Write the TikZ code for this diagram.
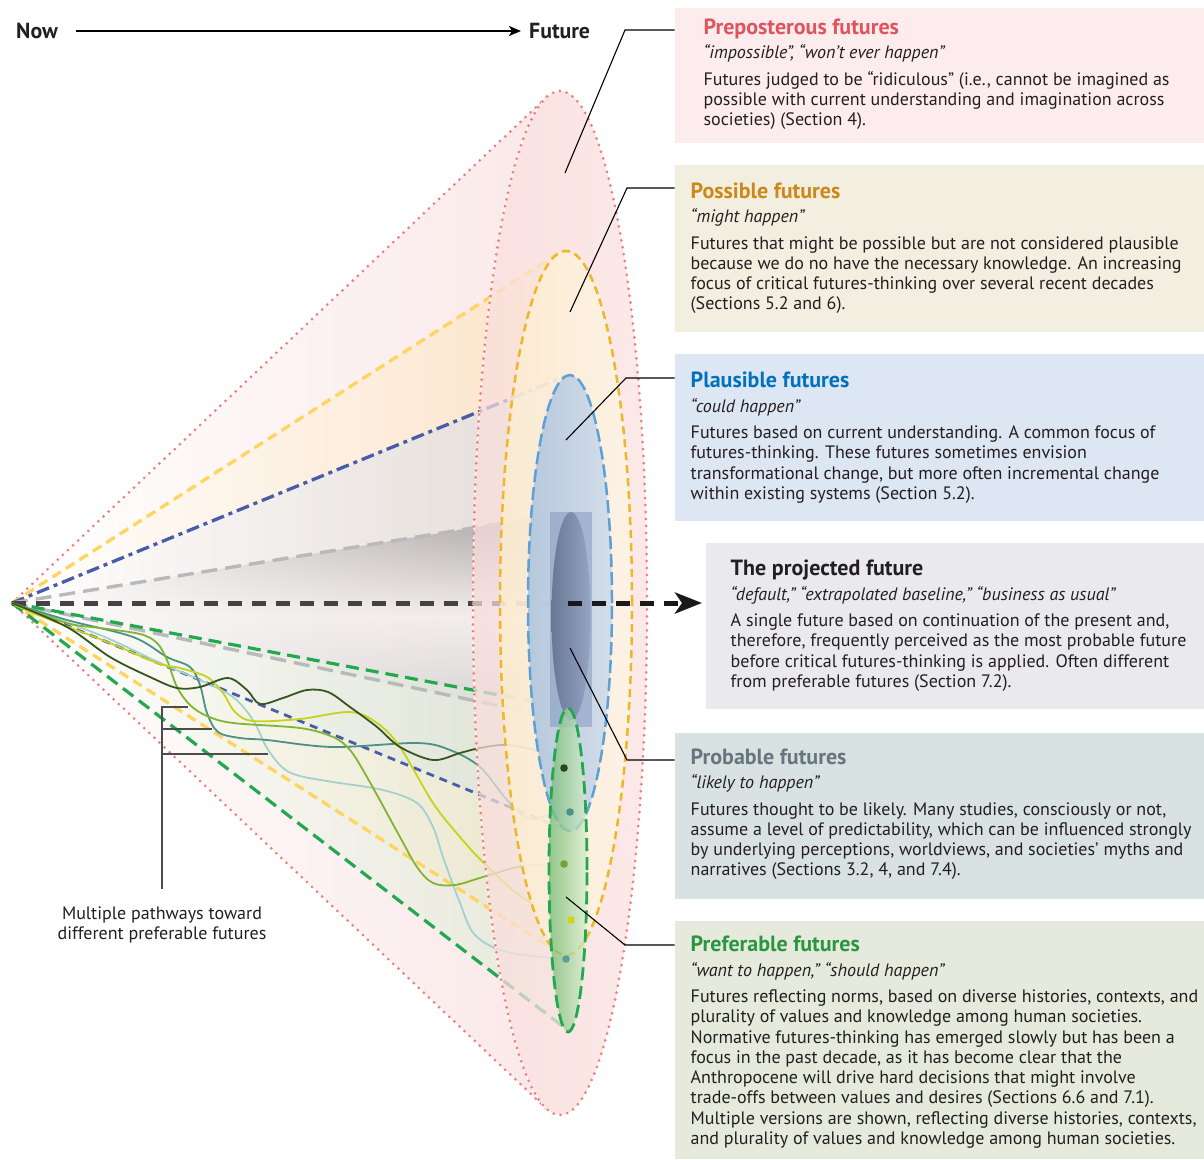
\documentclass[tikz,border=0pt]{standalone}
\usepackage{fontspec}
\setmainfont{PT Sans}
\usetikzlibrary{arrows.meta,fadings}
\definecolor{ink}{RGB}{35,31,32}
\definecolor{redline}{RGB}{240,125,125}
\definecolor{redhull}{RGB}{250,228,228}
\definecolor{redfaceL}{RGB}{249,221,219}
\definecolor{redfaceR}{RGB}{252,236,234}
\definecolor{yelline}{RGB}{255,212,95}
\definecolor{yelout}{RGB}{238,183,40}
\definecolor{yelhull}{RGB}{253,222,172}
\definecolor{yelfaceL}{RGB}{253,238,205}
\definecolor{yelfaceR}{RGB}{253,246,232}
\definecolor{bluetop}{RGB}{72,92,168}
\definecolor{blueout}{RGB}{95,160,212}
\definecolor{bluehull}{RGB}{205,210,225}
\definecolor{bluefaceL}{RGB}{165,192,222}
\definecolor{bluefaceR}{RGB}{202,217,236}
\definecolor{grayline}{RGB}{185,185,185}
\definecolor{grayA}{RGB}{150,146,148}
\definecolor{grayB}{RGB}{248,244,245}
\definecolor{grayC}{RGB}{205,203,204}
\definecolor{projrect}{RGB}{125,148,188}
\definecolor{projL}{RGB}{92,106,135}
\definecolor{projR}{RGB}{145,160,192}
\definecolor{projline}{RGB}{68,66,66}
\definecolor{greenline}{RGB}{35,168,80}
\definecolor{greenhull}{RGB}{215,232,205}
\definecolor{greenfaceL}{RGB}{115,186,115}
\definecolor{greenfaceR}{RGB}{215,238,205}
\definecolor{pDark}{RGB}{55,85,30}
\definecolor{pTeal}{RGB}{75,145,135}
\definecolor{pYel}{RGB}{200,210,25}
\definecolor{pGreen}{RGB}{130,180,50}
\definecolor{pLight}{RGB}{165,208,208}
\definecolor{boxPreC}{RGB}{252,236,237}
\definecolor{boxPosC}{RGB}{243,239,224}
\definecolor{boxPlaC}{RGB}{221,230,243}
\definecolor{boxProjC}{RGB}{234,234,236}
\definecolor{boxProbC}{RGB}{216,226,226}
\definecolor{boxPrefC}{RGB}{229,234,221}
\definecolor{tPreC}{RGB}{222,85,95}
\definecolor{tPosC}{RGB}{204,136,24}
\definecolor{tPlaC}{RGB}{0,114,188}
\definecolor{tProbC}{RGB}{103,117,126}
\definecolor{tPrefC}{RGB}{43,150,64}
\newcommand\titlef{\fontsize{22}{24}\selectfont\bfseries}
\newcommand\bodyf{\fontsize{18}{20.25}\selectfont}
\tikzfading[name=fadeleft, left color=transparent!100, right color=transparent!0]
\begin{document}
\begin{tikzpicture}[x=1pt,y=-1pt,
  reddot/.style={draw=redline, line width=3pt, line cap=round, dash pattern=on 0pt off 7pt},
  yelldash/.style={draw=yelline, line width=3.3pt, dash pattern=on 10pt off 6pt},
  yelloutl/.style={draw=yelout, line width=2.5pt, dash pattern=on 8pt off 5pt},
  bluedashdot/.style={draw=bluetop, line width=3.3pt, dash pattern=on 13pt off 5pt on 4pt off 5pt},
  bluedash/.style={draw=bluetop, line width=2.8pt, dash pattern=on 8pt off 6pt},
  blueoutl/.style={draw=blueout, line width=2.5pt, dash pattern=on 13pt off 5pt},
  graydash/.style={draw=grayline, line width=3.4pt, dash pattern=on 16pt off 8pt},
  greendash/.style={draw=greenline, line width=3.2pt, dash pattern=on 13pt off 7pt},
  greenoutl/.style={draw=greenline, line width=2.8pt, dash pattern=on 13pt off 6pt},
  projdash/.style={draw=projline, line width=5pt, dash pattern=on 13.5pt off 10.5pt},
  pathw/.style={line width=1.8pt},
  leader/.style={draw=black, line width=1.1pt},
  bracket/.style={draw=black!70, line width=1.5pt},
  infobox/.style={draw=none, inner sep=0pt, anchor=north west},
  infotext/.style={anchor=base west, inner sep=0pt, text=ink, font=\bodyf},
  bigword/.style={inner sep=0pt, text=ink, font=\fontsize{21.8}{24}\selectfont\bfseries}]
\useasboundingbox (0,0) rectangle (1204,1159);
\fill[white] (0,0) rectangle (1204,1159);

% ---------- hulls ----------
\shade[left color=white, right color=redhull]
  (12,603) -- (546.2,1108.5) -- (546.2,97.5) -- cycle (560,603) ellipse [x radius=87pt, y radius=512pt];
\shade[left color=white, right color=yelhull, fill opacity=0.6]
  (12,603) -- (558.1,952.5) -- (558.1,253.5) -- cycle (566,603) ellipse [x radius=66pt, y radius=352pt];
\shade[left color=white, right color=bluehull, fill opacity=0.55]
  (12,603) -- (566.8,830.4) -- (566.8,375.6) -- cycle (570,603) ellipse [x radius=42pt, y radius=228pt];
\shade[top color=grayA, bottom color=grayC, middle color=grayB, path fading=fadeleft, fit fading=true, fill opacity=0.85]
  (12,603) -- (566,720) -- (570,512) -- cycle;
\shade[left color=white, right color=greenhull, fill opacity=0.5]
  (12,603) -- (570,1032) -- (568,708) -- cycle (568,870) ellipse [x radius=19pt, y radius=162pt];

% ---------- hull edges ----------
\coordinate (apex) at (12,603);
\draw[reddot] (apex) -- (546.2,97.5);
\draw[reddot] (apex) -- (546.2,1108.5);
\draw[yelldash] (apex) -- (558.1,253.5);
\draw[yelldash] (apex) -- (558.1,952.5);
\draw[bluedashdot] (apex) -- (566.8,375.6);
\draw[bluedash] (apex) -- (566.8,830.4);
\draw[graydash] (apex) -- (570,512);
\draw[graydash] (apex) -- (566,720);
\draw[greendash] (apex) -- (568,708);
\draw[greendash] (apex) -- (570,1032);
\draw[projdash] (apex) -- (566,603);

% ---------- pathways ----------
\draw[pathw, draw=pLight] plot[smooth, tension=0.55] coordinates {(12,603) (100,635) (160,663) (200,680) (233,697) (253,720) (267,748) (283,768) (300,776) (333,782) (383,790) (417,803) (433,827) (443,857) (460,903) (475,935) (507,952) (566,959)};
\draw[pathw, draw=pTeal] plot[smooth, tension=0.55] coordinates {(12,603) (67,620) (133,637) (167,657) (190,667) (200,685) (207,713) (218,732) (240,738) (267,740) (333,747) (417,743) (450,750) (480,767) (507,800) (527,818) (550,815) (570,812)};
\draw[pathw, draw=pGreen] plot[smooth, tension=0.55] coordinates {(12,603) (67,623) (100,628) (140,634) (157,643) (167,660) (177,687) (190,705) (207,716) (233,723) (300,728) (333,737) (350,750) (367,777) (400,837) (417,867) (433,883) (455,885) (483,877) (523,866) (564,864)};
\draw[pathw, draw=pYel] plot[smooth, tension=0.55] coordinates {(12,603) (33,613) (110,643) (157,663) (180,668) (207,677) (223,693) (235,712) (253,721) (300,719) (350,712) (377,723) (400,747) (433,803) (460,837) (483,862) (523,898) (571,920)};
\draw[pathw, draw=pDark] plot[smooth, tension=0.55] coordinates {(12,603) (67,627) (110,657) (150,677) (177,688) (200,687) (228,678) (247,690) (260,704) (283,698) (307,690) (328,692) (350,707) (377,727) (400,747) (433,760) (460,753) (480,748) (507,745) (540,752) (564,768)};

% ---------- faces ----------
\shade[left color=redfaceL, right color=redfaceR, fill opacity=0.72] (560,603) ellipse [x radius=87pt, y radius=512pt];
\draw[white, line width=1.2pt, dash pattern=on 3pt off 2pt] (560,1115) arc[start angle=270, end angle=90, x radius=87pt, y radius=512pt];
\draw[reddot] (560,603) ellipse [x radius=87pt, y radius=512pt];
\shade[left color=yelfaceL, right color=yelfaceR, fill opacity=0.75] (566,603) ellipse [x radius=66pt, y radius=352pt];
\draw[yelloutl] (566,603) ellipse [x radius=66pt, y radius=352pt];
\shade[left color=bluefaceL, right color=bluefaceR, fill opacity=0.8] (570,603) ellipse [x radius=42pt, y radius=228pt];
\draw[blueoutl] (570,603) ellipse [x radius=42pt, y radius=228pt];
\fill[projrect, fill opacity=0.5] (550,512) rectangle (592,727);
\shade[left color=projL, right color=projR, fill opacity=0.8] (571,616) ellipse [x radius=19.5pt, y radius=104pt];
\shade[left color=greenfaceL, right color=greenfaceR, fill opacity=0.75] (568,870) ellipse [x radius=19pt, y radius=162pt];
\draw[greenoutl] (568,870) ellipse [x radius=19pt, y radius=162pt];

% ---------- projected arrow ----------
\coordinate (projStart) at (568,603);
\coordinate (projTip) at (702,603);
\draw[projdash, draw=black!90, -{Stealth[length=27pt, width=21pt, inset=7pt]}] (projStart) -- (projTip);

% ---------- pathway end dots ----------
\fill[pDark!80!black] (564,768) circle[radius=3.8pt];
\fill[pTeal] (570,812) circle[radius=3.8pt];
\fill[pGreen!90!black] (564,864) circle[radius=3.8pt];
\fill[pYel!95!yellow] (571,920) circle[radius=3.8pt];
\fill[pTeal!80!pLight] (566,959) circle[radius=3.8pt];

% ---------- top axis ----------
\node[bigword, anchor=west] (now) at (16,31) {Now};
\node[bigword, anchor=west] (fut) at (529,31) {Future};
\draw[line width=1.8pt, shorten <=18pt, shorten >=8pt, -{Stealth[length=12pt, width=10pt, inset=3pt]}] (now.east) -- (fut.west);

% ---------- boxes ----------
\node[infobox, fill=boxPreC,  minimum width=529.5pt, minimum height=134.5pt] (boxPre)  at (674.5,8) {};
\node[infobox, fill=boxPosC,  minimum width=529.5pt, minimum height=166.5pt] (boxPos)  at (674.5,165) {};
\node[infobox, fill=boxPlaC,  minimum width=529.5pt, minimum height=166.5pt] (boxPla)  at (674.5,354) {};
\node[infobox, fill=boxProjC, minimum width=498.5pt, minimum height=166.5pt] (boxProj) at (705.5,542.5) {};
\node[infobox, fill=boxProbC, minimum width=529.5pt, minimum height=166.5pt] (boxProb) at (674.5,732.3) {};
\node[infobox, fill=boxPrefC, minimum width=529.5pt, minimum height=238pt]   (boxPref) at (674.5,921) {};

\node[infotext] (tPre) at (703.4,34.3) {\begin{tabular}[t]{@{}l@{}}
{\titlef\color{tPreC}Preposterous futures}\\[4.2pt]
\itshape “impossible”, “won’t ever happen”\\[6.2pt]
Futures judged to be “ridiculous” (i.e., cannot be imagined as\\
possible with current understanding and imagination across\\
societies) (Section 4).\end{tabular}};

\node[infotext] (tPos) at (690.5,198.3) {\begin{tabular}[t]{@{}l@{}}
{\titlef\color{tPosC}Possible futures}\\[4.2pt]
\itshape “might happen”\\[6.2pt]
Futures that might be possible but are not considered plausible\\
because we do no have the necessary knowledge. An increasing\\
focus of critical futures-thinking over several recent decades\\
(Sections 5.2 and 6).\end{tabular}};

\node[infotext] (tPla) at (690.5,387.7) {\begin{tabular}[t]{@{}l@{}}
{\titlef\color{tPlaC}Plausible futures}\\[4.2pt]
\itshape “could happen”\\[6.2pt]
Futures based on current understanding. A common focus of\\
futures-thinking. These futures sometimes envision\\
transformational change, but more often incremental change\\
within existing systems (Section 5.2).\end{tabular}};

\node[infotext] (tProj) at (730.5,575.7) {\begin{tabular}[t]{@{}l@{}}
{\titlef The projected future}\\[4.2pt]
\itshape “default,” “extrapolated baseline,” “business as usual”\\[6.2pt]
A single future based on continuation of the present and,\\
therefore, frequently perceived as the most probable future\\
before critical futures-thinking is applied. Often different\\
from preferable futures (Section 7.2).\end{tabular}};

\node[infotext] (tProb) at (690.5,764.3) {\begin{tabular}[t]{@{}l@{}}
{\titlef\color{tProbC}Probable futures}\\[4.2pt]
\itshape “likely to happen”\\[6.2pt]
Futures thought to be likely. Many studies, consciously or not,\\
assume a level of predictability, which can be influenced strongly\\
by underlying perceptions, worldviews, and societies’ myths and\\
narratives (Sections 3.2, 4, and 7.4).\end{tabular}};

\node[infotext] (tPref) at (690.5,951.7) {\begin{tabular}[t]{@{}l@{}}
{\titlef\color{tPrefC}Preferable futures}\\[4.2pt]
\itshape “want to happen,” “should happen”\\[6.2pt]
Futures reflecting norms, based on diverse histories, contexts, and\\
plurality of values and knowledge among human societies.\\
Normative futures-thinking has emerged slowly but has been a\\
focus in the past decade, as it has become clear that the\\
Anthropocene will drive hard decisions that might involve\\
trade-offs between values and desires (Sections 6.6 and 7.1).\\
Multiple versions are shown, reflecting diverse histories, contexts,\\
and plurality of values and knowledge among human societies.\end{tabular}};

% ---------- leaders ----------
\coordinate (aPre) at (565,173);   \coordinate (kPre) at (625,30);
\coordinate (aPos) at (570,312);   \coordinate (kPos) at (627,188);
\coordinate (aPla) at (566,440);   \coordinate (kPla) at (626,378);
\coordinate (aProb) at (570,648);  \coordinate (kProb) at (627,760);
\coordinate (aPref) at (566,897);  \coordinate (kPref) at (625,945);
\draw[leader] (aPre) -- (kPre) -- (kPre -| boxPre.west);
\draw[leader] (aPos) -- (kPos) -- (kPos -| boxPos.west);
\draw[leader] (aPla) -- (kPla) -- (kPla -| boxPla.west);
\draw[leader] (aProb) -- (kProb) -- (kProb -| boxProb.west);
\draw[leader] (aPref) -- (kPref) -- (kPref -| boxPref.west);

% ---------- pathway label ----------
\node[infotext, anchor=base] (lbl) at (162,919.3) {\begin{tabular}[t]{@{}c@{}}Multiple pathways toward\\different preferable futures\end{tabular}};
\coordinate (bBot) at (162,889);
\coordinate (b1) at (162,707);
\coordinate (b2) at (162,729);
\coordinate (b3) at (162,754);
\draw[bracket] (bBot) -- (b1) -- ++(26,0);
\draw[bracket] (b2) -- ++(50,0);
\draw[bracket] (b3) -- ++(106,0);
\end{tikzpicture}
\end{document}
